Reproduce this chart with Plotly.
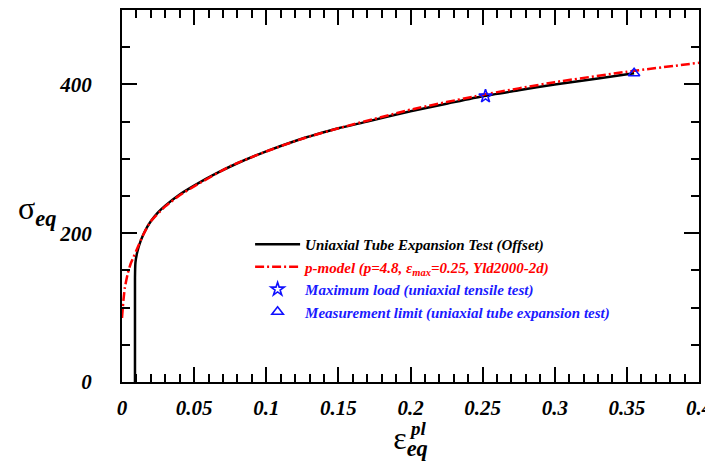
import plotly.graph_objects as go

# Uniaxial tube expansion test (offset)
exp_strain = [0.009, 0.009, 0.0093, 0.0105, 0.013, 0.0165, 0.02, 0.025, 0.03, 0.04, 0.05, 0.065, 0.08, 0.1, 0.12, 0.135, 0.15, 0.17, 0.2, 0.225, 0.25, 0.275, 0.3, 0.33, 0.355]
exp_stress = [0, 140, 160, 174, 190, 205, 216, 228, 237, 252, 264, 280, 294, 310, 324, 333, 341, 350, 364, 374, 384, 392, 400, 408, 415]

# p-model curve
model_strain = [0.0, 0.001, 0.002, 0.004, 0.006, 0.008, 0.01, 0.015, 0.02, 0.03, 0.04, 0.05, 0.075, 0.1, 0.125, 0.15, 0.2, 0.25, 0.3, 0.35, 0.4]
model_stress = [86, 110, 127, 146, 159, 168, 177, 199, 216, 236, 251, 263, 290, 310, 327, 341, 366, 386, 403, 417, 429]

# markers
maxload_strain = [0.252]
maxload_stress = [384]
limit_strain = [0.355]
limit_stress = [415]

x_ticks = [0, 0.05, 0.1, 0.15, 0.2, 0.25, 0.3, 0.35, 0.4]
y_ticks = [0, 200, 400]

serif = "Liberation Serif"

fig = go.Figure()
fig.add_trace(go.Scatter(
    x=exp_strain, y=exp_stress, mode="lines",
    line=dict(color="black", width=2.5, shape="spline", smoothing=0.5),
    name='<span style="color:black">Uniaxial Tube Expansion Test (Offset)</span>'))
fig.add_trace(go.Scatter(
    x=model_strain, y=model_stress, mode="lines",
    line=dict(color="#ff0000", width=2.5, dash="9px,3px,2px,3px", shape="spline", smoothing=0.5),
    name='<span style="color:#ff0000">p-model (p=4.8, ε<sub>max</sub>=0.25, Yld2000-2d)</span>'))
fig.add_trace(go.Scatter(
    x=maxload_strain, y=maxload_stress, mode="markers",
    marker=dict(symbol="star-open", size=10, color="#1010ff", line=dict(width=1.6, color="#1010ff")),
    name='<span style="color:#1a1aff">Maximum load (uniaxial tensile test)</span>'))
fig.add_trace(go.Scatter(
    x=limit_strain, y=limit_stress, mode="markers",
    marker=dict(symbol="triangle-up-open", size=10, color="#1010ff", line=dict(width=1.6, color="#1010ff")),
    name='<span style="color:#1a1aff">Measurement limit (uniaxial tube expansion test)</span>'))

axis_common = dict(
    showline=True, linecolor="black", linewidth=2, mirror="ticks",
    ticks="inside", tickcolor="black", tickwidth=2,
    showgrid=False, zeroline=False, automargin=False,
    tickfont=dict(family=serif, size=21, color="black", weight="bold", style="italic"),
)

# the page body adds an 8px margin, so the figure is sized/margined to compensate
fig.update_layout(
    width=705, height=459,
    margin=dict(l=114, r=14, t=2, b=85),
    paper_bgcolor="white", plot_bgcolor="white",
    showlegend=True,
    legend=dict(
        x=0.222, y=0.414, xanchor="left", yanchor="top",
        bgcolor="rgba(0,0,0,0)", borderwidth=0,
        font=dict(family=serif, size=15, weight="bold", style="italic"),
        tracegroupgap=0, itemwidth=45,
    ),
    xaxis=dict(
        range=[0, 0.4], tickvals=x_ticks, ticklen=15, ticklabelstandoff=6,
        minor=dict(dtick=0.01, ticklen=8, tickwidth=2, tickcolor="black", ticks="inside"),
        title=dict(text="ε<sub><b><i>eq</i></b></sub>", standoff=3,
                   font=dict(family=serif, size=32, color="black")),
        **axis_common),
    yaxis=dict(
        range=[0, 500], tickvals=y_ticks, ticklen=15, ticklabelstandoff=24,
        minor=dict(dtick=50, ticklen=8, tickwidth=2, tickcolor="black", ticks="inside"),
        **axis_common),
)

# y-axis title (horizontal, as in the reference)
fig.add_annotation(
    text="σ<sub><b><i>eq</i></b></sub>", xref="paper", yref="paper",
    x=-0.148, y=0.46, xanchor="center", yanchor="middle", showarrow=False,
    font=dict(family=serif, size=32, color="black"))

# superscript of the x-axis title
fig.add_annotation(
    text="<b><i>pl</i></b>", xref="paper", yref="paper",
    x=0.513, y=-0.125, xanchor="center", yanchor="middle", showarrow=False,
    font=dict(family=serif, size=19, color="black"))

fig.write_html("out.html")
